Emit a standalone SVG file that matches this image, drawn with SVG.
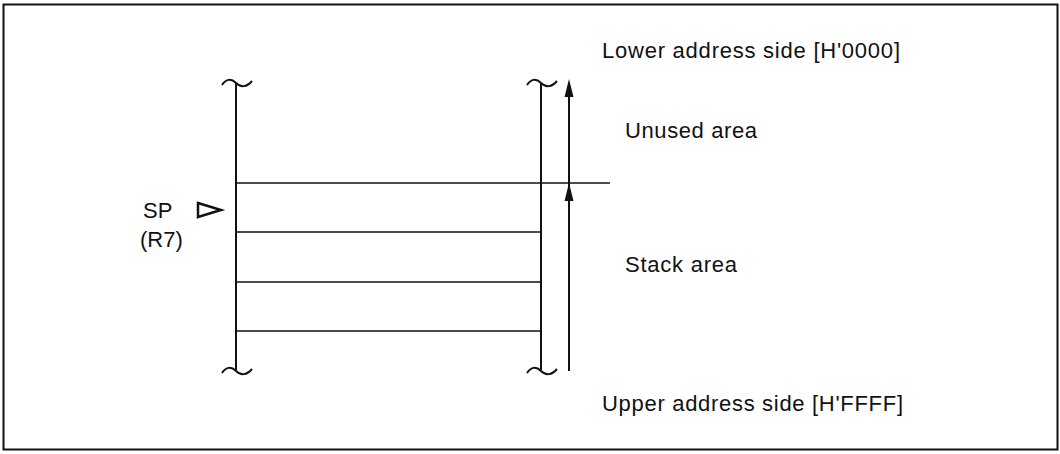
<svg xmlns="http://www.w3.org/2000/svg" width="1060" height="454" viewBox="0 0 1060 454">
<style>
  .t { font-family: "Liberation Sans", Arial, sans-serif; font-size: 22px; fill: #111; }
  .ln { stroke: #111; stroke-width: 1.6; fill: none; }
  .tl { stroke: #111; stroke-width: 2; fill: none; }
  .vl { stroke: #111; stroke-width: 2; fill: none; }
  .ah { fill: #111; }
</style>
<rect x="0" y="0" width="1060" height="454" fill="#fff"/>
<rect x="3.5" y="4.5" width="1054" height="445" fill="none" stroke="#111" stroke-width="2"/>
<g id="memory">
  <path class="vl" d="M236,84 V370"/>
  <path class="vl" d="M541,84 V370"/>
  <path class="tl" d="M222,85 C226,79 231,78 236,83 C241,88 247,87 252,81"/>
  <path class="tl" d="M527,85 C531,79 536,78 541,83 C546,88 552,87 557,81"/>
  <path class="tl" d="M222,373 C226,367 231,366 236,371 C241,376 247,375 252,369"/>
  <path class="tl" d="M527,373 C531,367 536,366 541,371 C546,376 552,375 557,369"/>
  <path class="ln" d="M236,183 H610"/>
  <path class="ln" d="M236,232 H541"/>
  <path class="ln" d="M236,282 H541"/>
  <path class="ln" d="M236,331 H541"/>
</g>
<g id="connectors">
  <path class="vl" d="M569,371 V92"/>
  <polygon class="ah" points="569,79 564.5,97 573.5,97"/>
  <polygon class="ah" points="569,183 564.5,201 573.5,201"/>
</g>
<g id="sp">
  <text class="t" x="143" y="218">SP</text>
  <polygon points="198,203 221,210 198,217" fill="none" stroke="#111" stroke-width="2.5" stroke-linejoin="miter"/>
  <text class="t" x="140" y="247">(R7)</text>
</g>
<g id="labels">
  <text class="t" x="602" y="58" textLength="298" lengthAdjust="spacing">Lower address side [H'0000]</text>
  <text class="t" x="625" y="138" textLength="132" lengthAdjust="spacing">Unused area</text>
  <text class="t" x="625" y="272" textLength="112" lengthAdjust="spacing">Stack area</text>
  <text class="t" x="602" y="411" textLength="301" lengthAdjust="spacing">Upper address side [H'FFFF]</text>
</g>
</svg>
